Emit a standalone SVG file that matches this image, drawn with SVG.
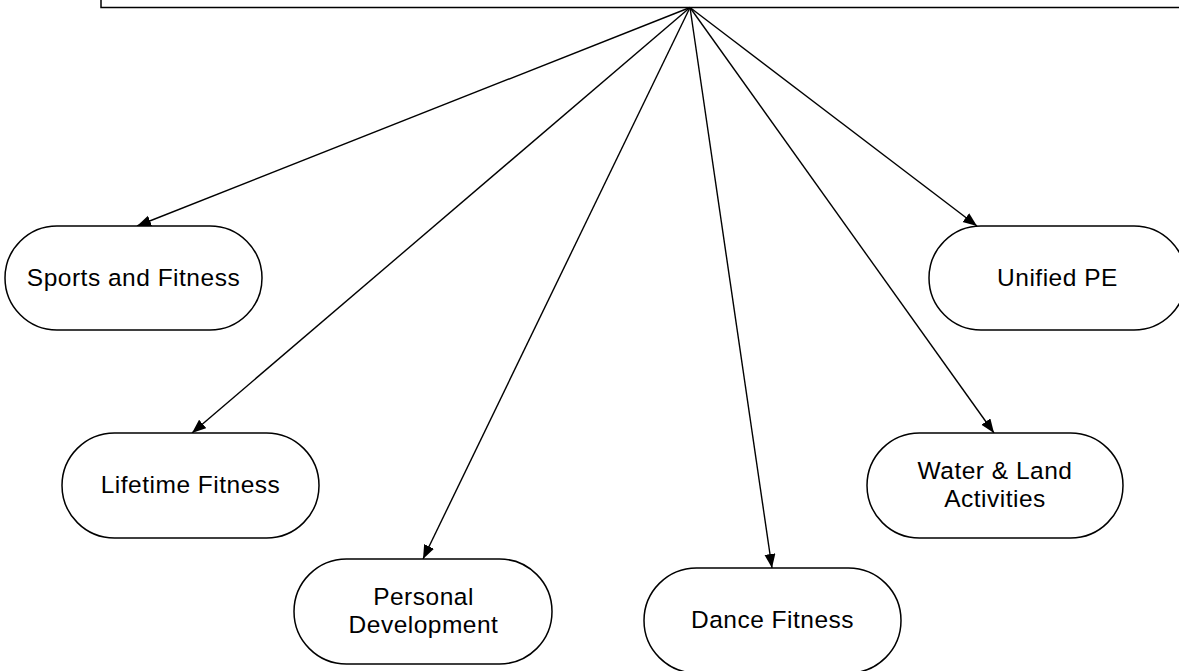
<svg xmlns="http://www.w3.org/2000/svg" width="1179" height="671" viewBox="0 0 1179 671">
<style>
.node{fill:#fff;stroke:#000;stroke-width:1.5}
.lbl{font-family:"Liberation Sans",Arial,sans-serif;font-size:24.5px;letter-spacing:0.5px;text-anchor:middle;fill:#000}
.edge{stroke:#000;stroke-width:1.4;fill:none;marker-end:url(#arr)}
</style>
<defs>
<marker id="arr" markerUnits="userSpaceOnUse" markerWidth="16" markerHeight="12" refX="14" refY="5.5" orient="auto">
<path d="M0,0 L14,5.5 L0,11 Z" fill="#000"/>
</marker>
</defs>
<rect width="1179" height="671" fill="#fff"/>
<g id="root"><rect x="101" y="-50" width="1200" height="57.5" class="node"/></g>
<g id="connectors">
<line x1="690" y1="7.5" x2="137" y2="226" class="edge"/>
<line x1="690" y1="7.5" x2="192" y2="433" class="edge"/>
<line x1="690" y1="7.5" x2="423" y2="559" class="edge"/>
<line x1="690" y1="7.5" x2="772" y2="568" class="edge"/>
<line x1="690" y1="7.5" x2="994" y2="433" class="edge"/>
<line x1="690" y1="7.5" x2="977" y2="226" class="edge"/>
</g>
<g id="sports"><rect x="5" y="226" width="257" height="104" rx="52" class="node"/><text x="133.5" y="286" class="lbl">Sports and Fitness</text></g>
<g id="lifetime"><rect x="62" y="433" width="257" height="105" rx="52.5" class="node"/><text x="190.5" y="493" class="lbl">Lifetime Fitness</text></g>
<g id="personal"><rect x="294" y="559" width="258" height="105" rx="52.5" class="node"/><text x="423.5" y="605" class="lbl">Personal</text><text x="423.5" y="633" class="lbl">Development</text></g>
<g id="dance"><rect x="644" y="568" width="257" height="105" rx="52.5" class="node"/><text x="772.5" y="628" class="lbl">Dance Fitness</text></g>
<g id="water"><rect x="867" y="433" width="256" height="105" rx="52.5" class="node"/><text x="995" y="479" class="lbl">Water &amp; Land</text><text x="995" y="507" class="lbl">Activities</text></g>
<g id="unified"><rect x="929" y="226" width="257" height="104" rx="52" class="node"/><text x="1057.5" y="286" class="lbl">Unified PE</text></g>
</svg>
